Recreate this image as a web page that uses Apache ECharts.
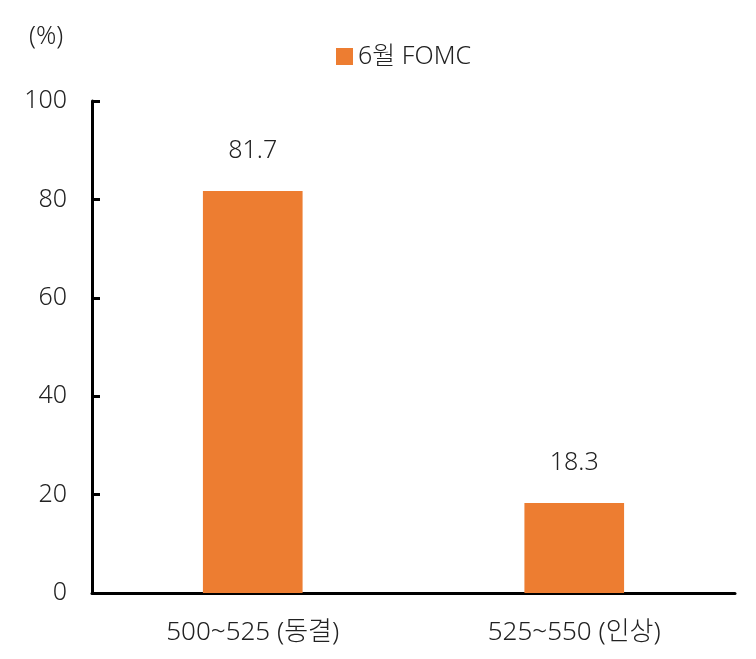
<!DOCTYPE html>
<html><head><meta charset="utf-8">
<script src="https://cdn.jsdelivr.net/npm/echarts@6/dist/echarts.min.js"></script>
<style>html,body{margin:0;padding:0;background:#fff}#c{width:756px;height:659px}</style>
</head><body><div id="c"></div>
<script>
const categories = ['500~525 (동결)', '525~550 (인상)'];
const seriesName = '6월 FOMC';
const values = [81.7, 18.3];
const yTicks = [0, 20, 40, 60, 80, 100];
const font = '"Noto Sans", "Noto Sans CJK KR", sans-serif';
const fw = 300;
const chart = echarts.init(document.getElementById('c'), null, {renderer: 'canvas'});
chart.setOption({
  animation: false,
  textStyle: {fontFamily: font},
  graphic: [{type: 'text', left: 29, top: 24, style: {text: '(%)', font: fw + ' 25px ' + font, fill: '#222'}}],
  legend: {
    top: 39, left: 331, itemWidth: 17, itemHeight: 17, itemGap: 6,
    textStyle: {fontSize: 25, fontWeight: fw, color: '#222', fontFamily: font},
    data: [{name: seriesName, icon: 'rect'}]
  },
  grid: {left: 92, right: 21, top: 101, bottom: 66, containLabel: false},
  xAxis: {
    type: 'category', data: categories,
    axisLine: {lineStyle: {color: '#000', width: 3}},
    axisTick: {show: false},
    axisLabel: {fontSize: 26, fontWeight: fw, color: '#222', margin: 27, fontFamily: font}
  },
  yAxis: {
    type: 'value', min: yTicks[0], max: yTicks[yTicks.length - 1], interval: 20,
    axisLine: {show: true, lineStyle: {color: '#000', width: 3}},
    axisTick: {show: true, inside: true, length: 8, lineStyle: {color: '#000', width: 3}},
    splitLine: {show: false},
    axisLabel: {fontSize: 25, fontWeight: fw, color: '#222', margin: 25, fontFamily: font}
  },
  series: [{
    name: seriesName, type: 'bar', data: values, barWidth: '31%',
    itemStyle: {color: '#ED7D31'},
    label: {show: true, position: 'top', distance: 28, fontSize: 25, fontWeight: fw, color: '#222', fontFamily: font, formatter: p => p.value.toFixed(1)}
  }]
});
</script></body></html>
